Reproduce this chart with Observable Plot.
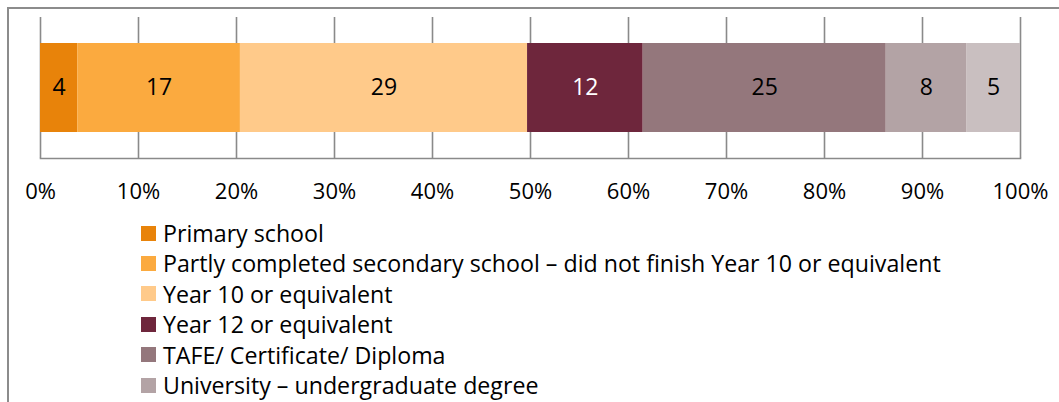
<!DOCTYPE html>
<html>
<head>
<meta charset="utf-8">
<script src="https://cdn.jsdelivr.net/npm/d3@7"></script>
<script src="https://cdn.jsdelivr.net/npm/@observablehq/plot@0.6"></script>
<style>
  html, body { margin: 0; padding: 0; background: #fff; overflow: hidden; }
  #wrap { position: relative; width: 1059px; height: 402px; overflow: hidden; font-family: "Open Sans", sans-serif; }
  #frameL { position: absolute; left: 7px; top: 7px; width: 2px; height: 420px; background: #8c8c8c; }
  #frameT { position: absolute; left: 7px; top: 7px; width: 1052px; height: 2px; background: #8c8c8c; }
  #chart { position: absolute; left: 0; top: 0; }
  #legend { position: absolute; left: 141px; top: 218px; font-size: 23.2px; color: #000; }
  .item { height: 30.4px; line-height: 30.4px; white-space: nowrap; display: flex; align-items: center; }
  .sw { width: 15px; height: 15px; margin-right: 7px; flex: none; }
</style>
</head>
<body>
<div id="wrap">
  <div id="frameL"></div>
  <div id="frameT"></div>
  <div id="chart"></div>
  <div id="legend"></div>
</div>
<script>
const categories = [
  "Primary school",
  "Partly completed secondary school – did not finish Year 10 or equivalent",
  "Year 10 or equivalent",
  "Year 12 or equivalent",
  "TAFE/ Certificate/ Diploma",
  "University – undergraduate degree",
  "University – postgraduate degree"
];
// segment widths (percent) as measured from the bar
const values = [3.8, 16.6, 29.3, 11.8, 24.8, 8.2, 5.5];
// data labels as printed on the bar
const labels = [4, 17, 29, 12, 25, 8, 5];
const colors = ["#e8830a", "#fbaa3f", "#ffca8a", "#6e263c", "#94777c", "#b3a3a5", "#c9bfc0"];
const labelColors = ["#000", "#000", "#000", "#fff", "#000", "#000", "#000"];
const tickValues = [0, 10, 20, 30, 40, 50, 60, 70, 80, 90, 100];
// legend rows visible within the picture (the last one falls below the bottom edge)
const legendVisible = 6;
const row = "All";

let cum = 0;
const data = categories.map((c, i) => {
  const d = {row, level: c, value: values[i], label: labels[i], start: cum, labelColor: labelColors[i]};
  cum += values[i];
  return d;
});

const chart = Plot.plot({
  width: 1059,
  height: 215,
  marginTop: 17,
  marginBottom: 57,
  marginLeft: 40,
  marginRight: 39,
  style: {fontFamily: "Open Sans, sans-serif", fontSize: "22px", color: "#000", background: "transparent"},
  x: {domain: [0, 100], ticks: tickValues, label: null},
  y: {domain: [row], axis: null, padding: 0, label: null},
  color: {domain: categories, range: colors},
  marks: [
    Plot.gridX(tickValues, {stroke: "#8a8a8a", strokeOpacity: 1, strokeWidth: 1.6}),
    Plot.frame({anchor: "bottom", stroke: "#8a8a8a", strokeWidth: 1.6}),
    Plot.barX(data, Plot.stackX({x: "value", y: "row", fill: "level", insetTop: 26, insetBottom: 26, order: null})),
    Plot.text(data.filter(d => d.labelColor === "#000"), {x: d => d.start + d.value / 2, y: "row", text: d => String(d.label), fill: "#000", fontSize: 23}),
    Plot.text(data.filter(d => d.labelColor === "#fff"), {x: d => d.start + d.value / 2, y: "row", text: d => String(d.label), fill: "#fff", fontSize: 23}),
    Plot.axisX(tickValues, {tickSize: 0, tickPadding: 25, tickFormat: d => d + "%", label: null, fontSize: 22})
  ]
});
document.getElementById("chart").appendChild(chart);

const legend = document.getElementById("legend");
categories.slice(0, legendVisible).forEach((c, i) => {
  const it = document.createElement("div");
  it.className = "item";
  const sw = document.createElement("span");
  sw.className = "sw";
  sw.style.background = colors[i];
  const tx = document.createElement("span");
  tx.textContent = c;
  it.appendChild(sw);
  it.appendChild(tx);
  legend.appendChild(it);
});
</script>
</body>
</html>
